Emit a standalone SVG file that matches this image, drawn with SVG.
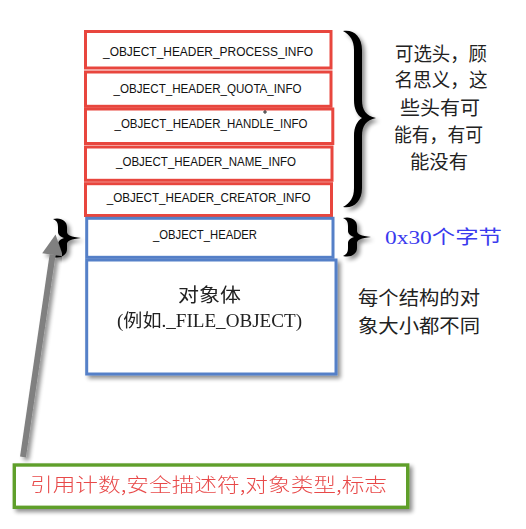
<svg xmlns="http://www.w3.org/2000/svg" width="526" height="529" viewBox="0 0 526 529">
<style>
.red{fill:#ffffff;stroke:#e8463e;stroke-width:3}
.blue{fill:#ffffff;stroke:#5580c8;stroke-width:3}
.green{fill:#ffffff;stroke:#5f9f2c;stroke-width:3.4}
.lbl{font-family:"Liberation Sans",Arial,sans-serif;font-size:12px;fill:#111111;text-anchor:middle}
.cjk{font-family:"Noto Sans CJK SC",sans-serif;font-size:19px;fill:#222222;text-anchor:middle}
.mix{font-family:"Liberation Serif","Noto Sans CJK SC",serif;font-size:18px;fill:#222222;text-anchor:middle}
.brace{fill:#000000}
</style>
<defs>
<filter id="sh" x="-30%" y="-30%" width="160%" height="160%">
<feGaussianBlur in="SourceAlpha" stdDeviation="2"/>
<feOffset dx="3" dy="3" result="b"/>
<feComponentTransfer><feFuncA type="linear" slope="0.45"/></feComponentTransfer>
<feMerge><feMergeNode/><feMergeNode in="SourceGraphic"/></feMerge>
</filter>
<path id="smallBrace" d="M0 1 C8 -1 14 3 14 9 L14 14 C14 17 18 19 28 20 C18 21 14 23 14 26 L14 31 C14 37 8 41 0 39 C4 37 5 35 5 31 L5 26 C5 23 8 21 11 20 C8 19 5 17 5 14 L5 9 C5 5 4 3 0 1 Z"/>
<marker id="ah" markerUnits="userSpaceOnUse" markerWidth="22" markerHeight="22" refX="0" refY="0" viewBox="0 -11 21 22" orient="auto" overflow="visible">
<path d="M0 -10.5 L20.5 0 L0 10.5 Z" fill="#808080"/>
</marker>
</defs>
<rect width="526" height="529" fill="#ffffff"/>

<g id="n-process"><rect class="red" x="85.5" y="31.5" width="245.5" height="36.5"/><text class="lbl" x="208" y="55.5" textLength="210" lengthAdjust="spacingAndGlyphs">_OBJECT_HEADER_PROCESS_INFO</text></g>
<g id="n-quota"><rect class="red" x="85.5" y="72" width="245.5" height="34.3"/><text class="lbl" x="207.5" y="92.5" textLength="188" lengthAdjust="spacingAndGlyphs">_OBJECT_HEADER_QUOTA_INFO</text></g>
<g id="n-handle"><rect class="red" x="85.5" y="109" width="247.3" height="34.5"/><text class="lbl" x="211" y="128.3" textLength="193" lengthAdjust="spacingAndGlyphs">_OBJECT_HEADER_HANDLE_INFO</text><path d="M265 110 v4 M263 112 h4" stroke="#000" stroke-width="0.8"/></g>
<g id="n-name"><rect class="red" x="85.5" y="147" width="246.5" height="33.3"/><text class="lbl" x="206" y="165.7" textLength="180" lengthAdjust="spacingAndGlyphs">_OBJECT_HEADER_NAME_INFO</text></g>
<g id="n-creator"><rect class="red" x="85.5" y="183.7" width="246" height="31.8"/><text class="lbl" x="208.7" y="202.3" textLength="204" lengthAdjust="spacingAndGlyphs">_OBJECT_HEADER_CREATOR_INFO</text></g>
<g id="n-header"><rect class="blue" x="86.7" y="218.3" width="246.3" height="39"/><text class="lbl" x="205" y="239" textLength="104" lengthAdjust="spacingAndGlyphs">_OBJECT_HEADER</text></g>
<g id="n-body" filter="url(#sh)"><rect class="blue" x="86.7" y="260" width="249.3" height="114"/>
<text class="cjk" x="209.5" y="302" textLength="63" lengthAdjust="spacingAndGlyphs">对象体</text>
<text class="mix" x="209.5" y="327" textLength="185" lengthAdjust="spacingAndGlyphs">(例如._FILE_OBJECT)</text></g>

<g id="brace-optional" filter="url(#sh)">
<path class="brace" d="M343 31 C353 29 362 36 362 50 L362 100 C362 110 366 116 376 118 C366 120 362 126 362 136 L362 188 C362 202 353 209 343 207 C350 203 354 198 354 188 L354 136 C354 127 357 121 362 118 C357 115 354 109 354 100 L354 50 C354 40 350 35 343 31 Z"/>
</g>
<g id="brace-header" filter="url(#sh)"><use href="#smallBrace" class="brace" x="343" y="217"/></g>
<g id="brace-left" filter="url(#sh)"><use href="#smallBrace" class="brace" x="53" y="218"/></g>

<g id="n-optional-note">
<text class="cjk" x="441" y="60.5" textLength="92" lengthAdjust="spacingAndGlyphs">可选头，顾</text>
<text class="cjk" x="441" y="87" textLength="93" lengthAdjust="spacingAndGlyphs">名思义，这</text>
<text class="cjk" x="440" y="114.5" textLength="80" lengthAdjust="spacingAndGlyphs">些头有可</text>
<text class="cjk" x="438.5" y="141.5" textLength="89" lengthAdjust="spacingAndGlyphs">能有，有可</text>
<text class="cjk" x="439" y="168.5" textLength="58" lengthAdjust="spacingAndGlyphs">能没有</text>
</g>
<g id="n-size-note"><text class="mix" x="443.5" y="244" style="fill:#3a3aee;font-size:19px" textLength="117" lengthAdjust="spacingAndGlyphs">0x30个字节</text></g>
<g id="n-body-note">
<text class="cjk" x="419" y="305" textLength="122" lengthAdjust="spacingAndGlyphs">每个结构的对</text>
<text class="cjk" x="419" y="333" textLength="122" lengthAdjust="spacingAndGlyphs">象大小都不同</text>
</g>

<g id="connectors">
<line x1="23" y1="457" x2="52.6" y2="254.8" stroke="#808080" stroke-width="6" marker-end="url(#ah)" filter="url(#sh)"/>
</g>

<g id="n-fields" filter="url(#sh)"><rect class="green" x="14.3" y="465" width="393.4" height="42.3"/>
<text class="cjk" x="208.5" y="492" style="fill:#e84a4a;font-weight:300" textLength="357" lengthAdjust="spacingAndGlyphs">引用计数,安全描述符,对象类型,标志</text></g>
</svg>
